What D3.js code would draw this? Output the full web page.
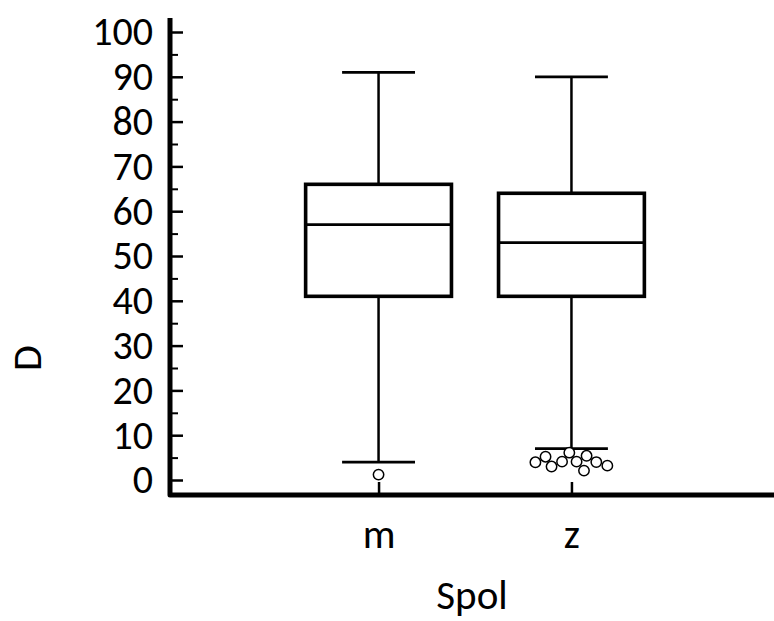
<!DOCTYPE html>
<html>
<head>
<meta charset="utf-8">
<script src="https://cdn.jsdelivr.net/npm/d3@7"></script>
<style>
  html, body { margin: 0; padding: 0; background: #fff; }
  svg { display: block; }
  text { font-family: Carlito, Calibri, "Open Sans", sans-serif; fill: #000; }
</style>
</head>
<body>
<svg id="chart" width="774" height="621"></svg>
<script>
// ---- data ----
const categories = ["m", "z"];
const q1Values = [41, 41];
const medianValues = [57, 53];
const q3Values = [66, 64];
const whiskerLowValues = [4, 7];
const whiskerHighValues = [91, 90];
const outliersM = [1.2];
const outliersZ = [6.1, 5.4, 5.2, 4.1, 4.1, 4.0, 3.95, 3.2, 3.0, 2.1];
const yTickValues = [0, 10, 20, 30, 40, 50, 60, 70, 80, 90, 100];
const yMinorTickValues = [5, 15, 25, 35, 45, 55, 65, 75, 85, 95];
const xTitle = "Spol";
const yTitle = "D";

const outliers = [outliersM, outliersZ];

const svg = d3.select("#chart");
const axisX0 = 170, axisY0 = 495, axisTop = 18, axisRight = 774;

const y = d3.scaleLinear().domain([0, 100]).range([480, 32]);
const x = d3.scalePoint().domain(categories).range([176, 774]).padding(1.05);

const boxW = x.step() * 0.756;
const capW = boxW / 2;

// y axis ticks (inward)
const gy = svg.append("g").attr("transform", `translate(${axisX0},0)`)
  .call(d3.axisLeft(y).tickValues(yTickValues).tickSizeInner(-13).tickSizeOuter(0).tickPadding(17));
gy.select(".domain").remove();
gy.selectAll(".tick line").attr("stroke", "#000").attr("stroke-width", 2.5);
gy.selectAll(".tick text").attr("font-size", 40).attr("font-family", null);

const gyMinor = svg.append("g").attr("transform", `translate(${axisX0},0)`)
  .call(d3.axisLeft(y).tickValues(yMinorTickValues).tickSizeInner(-8).tickSizeOuter(0).tickFormat(""));
gyMinor.select(".domain").remove();
gyMinor.selectAll(".tick line").attr("stroke", "#000").attr("stroke-width", 2);

// x axis ticks (inward)
const gx = svg.append("g").attr("transform", `translate(0,${axisY0})`)
  .call(d3.axisBottom(x).tickSizeInner(-13).tickSizeOuter(0).tickPadding(24));
gx.select(".domain").remove();
gx.selectAll(".tick line").attr("stroke", "#000").attr("stroke-width", 2.5);
gx.selectAll(".tick text").attr("font-size", 41).attr("font-family", null);

// axis lines
svg.append("path")
  .attr("d", `M${axisX0},${axisTop}V${axisY0}H${axisRight}`)
  .attr("fill", "none").attr("stroke", "#000").attr("stroke-width", 5)
  .attr("stroke-linejoin", "round");

// boxes
const boxes = categories.map((c, i) => ({
  c, q1: q1Values[i], med: medianValues[i], q3: q3Values[i],
  lo: whiskerLowValues[i], hi: whiskerHighValues[i], out: outliers[i]
}));

const g = svg.append("g");
boxes.forEach(b => {
  const cx = x(b.c);
  // whiskers
  g.append("line").attr("x1", cx).attr("x2", cx).attr("y1", y(b.q3)).attr("y2", y(b.hi))
    .attr("stroke", "#000").attr("stroke-width", 2.5);
  g.append("line").attr("x1", cx).attr("x2", cx).attr("y1", y(b.q1)).attr("y2", y(b.lo))
    .attr("stroke", "#000").attr("stroke-width", 2.5);
  [b.hi, b.lo].forEach(v => {
    g.append("line").attr("x1", cx - capW / 2).attr("x2", cx + capW / 2)
      .attr("y1", y(v)).attr("y2", y(v))
      .attr("stroke", "#000").attr("stroke-width", 2.8);
  });
  // box
  g.append("rect").attr("x", cx - boxW / 2).attr("y", y(b.q3))
    .attr("width", boxW).attr("height", y(b.q1) - y(b.q3))
    .attr("fill", "#fff").attr("stroke", "#000").attr("stroke-width", 3.6);
  g.append("line").attr("x1", cx - boxW / 2).attr("x2", cx + boxW / 2)
    .attr("y1", y(b.med)).attr("y2", y(b.med))
    .attr("stroke", "#000").attr("stroke-width", 2.8);

  // outliers, dodged with a deterministic force layout
  const nodes = b.out.map(v => ({ v, fy: y(v) }));
  const sim = d3.forceSimulation(nodes)
    .force("x", d3.forceX(cx).strength(0.05))
    .force("collide", d3.forceCollide(5.8))
    .stop();
  nodes.forEach((n, k) => { n.x = cx + (k % 2 ? 1 : -1) * k; n.y = n.fy; });
  for (let t = 0; t < 300; t++) sim.tick();
  g.selectAll(null).data(nodes).enter().append("circle")
    .attr("cx", d => d.x).attr("cy", d => y(d.v)).attr("r", 5.2)
    .attr("fill", "#fff").attr("stroke", "#000").attr("stroke-width", 1.5);
});

// titles
svg.append("text").attr("x", (axisX0 + axisRight) / 2).attr("y", 609)
  .attr("text-anchor", "middle").attr("font-size", 41).text(xTitle);
svg.append("text").attr("transform", "translate(41,358) rotate(-90)")
  .attr("text-anchor", "middle").attr("font-size", 42).text(yTitle);
</script>
</body>
</html>
